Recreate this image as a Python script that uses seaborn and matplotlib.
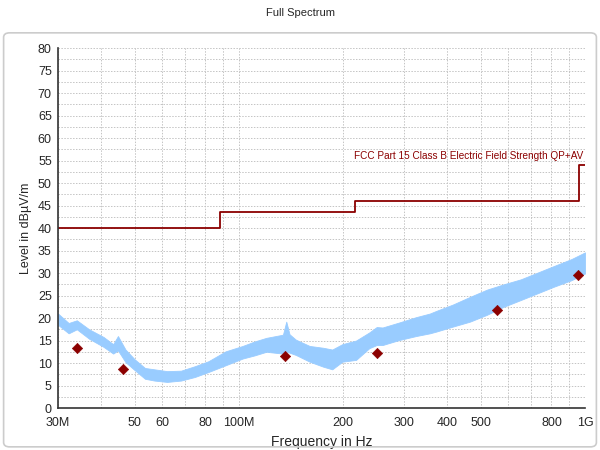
import matplotlib
matplotlib.use("Agg")
import matplotlib.pyplot as plt
from matplotlib.patches import FancyBboxPatch
import seaborn as sns
import pandas as pd
import numpy as np

# spectrum envelope, MHz / dBuV/m
band_freq = [30, 32.2, 34, 36.9, 40.6, 43.3, 44.7, 47, 50, 53.5, 57, 62, 68, 74.6, 81.6, 91.5,
             102.5, 111, 120, 134, 137, 140, 146, 160, 175, 186, 199, 218, 238, 250, 260,
             290, 325, 356, 372, 415, 465, 520, 582, 652, 729, 815, 913, 1000]
band_hi = [21.0, 18.9, 19.5, 17.5, 15.8, 14.2, 16.0, 13.0, 10.8, 8.9, 8.6, 8.2, 8.3, 9.3, 10.4, 12.6,
           13.8, 14.8, 15.6, 16.3, 19.2, 16.4, 15.2, 13.8, 13.4, 13.0, 14.2, 15.0, 16.8, 18.0, 17.9,
           19.0, 20.2, 21.0, 21.6, 23.0, 24.7, 26.3, 27.5, 28.6, 30.1, 31.6, 33.1, 34.6]
band_lo = [18.5, 16.6, 17.5, 15.4, 13.6, 12.1, 12.8, 10.2, 8.4, 6.5, 6.1, 5.8, 6.1, 6.9, 8.0, 9.5,
           11.0, 11.7, 12.5, 12.1, 12.6, 12.3, 11.8, 10.3, 9.2, 8.6, 10.3, 10.7, 13.3, 14.0, 14.0,
           15.1, 16.0, 16.6, 17.0, 18.1, 19.2, 20.7, 22.5, 24.0, 25.5, 27.0, 28.4, 29.9]

# final measurement points
peak_freq = [34.1, 46.1, 136.1, 251, 556, 954]
peak_level = [13.4, 8.7, 11.6, 12.2, 21.8, 29.5]

# FCC limit line
limit_freq = [30, 88, 216, 960, 1000]
limit_level = [40, 43.5, 46, 54, 54]

xtick_vals = [30, 40, 50, 60, 70, 80, 90, 100, 200, 300, 400, 500, 600, 700, 800, 900, 1000]
xtick_labels = ["30M", "", "50", "60", "", "80", "", "100M", "200", "300", "400", "500", "", "", "800", "", "1G"]

sns.set_style("white")
plt.rcParams['font.family'] = ['Liberation Sans', 'DejaVu Sans']

fig = plt.figure(figsize=(6, 4.5), dpi=100)
ax = fig.add_axes([0.0967, 0.0933, 0.8783, 0.7997])

border = FancyBboxPatch((0.006, 0.007), 0.988, 0.92, boxstyle="round,pad=0,rounding_size=0.01",
                        transform=fig.transFigure, fill=False, edgecolor="#cccccc", linewidth=1.2)
fig.patches.append(border)

ax.fill_between(band_freq, band_lo, band_hi, color="#99ccff", linewidth=0.6, edgecolor="#99ccff")

lim_df = pd.DataFrame({"f": limit_freq, "lvl": limit_level})
sns.lineplot(data=lim_df, x="f", y="lvl", ax=ax, color="#8b0000", linewidth=1.3,
             drawstyle="steps-post", estimator=None)

pk_df = pd.DataFrame({"f": peak_freq, "lvl": peak_level})
sns.scatterplot(data=pk_df, x="f", y="lvl", ax=ax, color="#8b0000", marker="D", s=28,
                edgecolor="#8b0000", zorder=5)

ax.text(988, 55.0, "FCC Part 15 Class B Electric Field Strength QP+AV", color="#8b0000",
        fontsize=7.2, ha="right", va="bottom")

ax.set_xscale("log")
ax.set_xlim(30, 1000)
ax.set_ylim(0, 80)
ax.set_xticks(xtick_vals)
ax.set_xticklabels(xtick_labels)
ax.xaxis.set_minor_locator(matplotlib.ticker.NullLocator())
ax.set_yticks(np.arange(0, 81, 5))
ax.set_yticks(np.arange(2.5, 80, 5), minor=True)

ax.grid(True, which="both", color="#c4c4c4", linestyle=(0, (1.5, 1.5)), linewidth=0.7)
ax.set_axisbelow(True)

for s in ["top", "right"]:
    ax.spines[s].set_visible(False)
for s in ["left", "bottom"]:
    ax.spines[s].set_color("#333333")
    ax.spines[s].set_linewidth(1.2)

ax.tick_params(axis="both", which="major", direction="inout", length=7, width=1.1,
               color="#333333", labelsize=9, pad=1)
ax.tick_params(axis="y", which="minor", direction="inout", length=6, width=1.1, color="#333333")
ax.tick_params(axis="x", which="major", pad=3)

ax.set_xlabel("Frequency in Hz", fontsize=10, labelpad=4)
ax.set_ylabel("Level in dBµV/m", fontsize=9, labelpad=4)
fig.text(0.5, 0.972, "Full Spectrum", ha="center", va="center", fontsize=8)

fig.savefig("out.png", dpi=100)
